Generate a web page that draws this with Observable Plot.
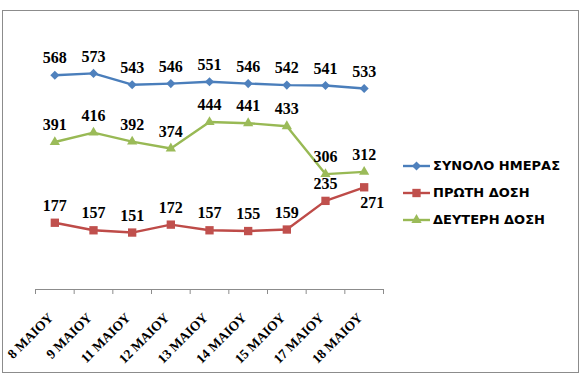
<!DOCTYPE html>
<html>
<head>
<meta charset="utf-8">
<script src="https://cdn.jsdelivr.net/npm/d3@7"></script>
<script src="https://cdn.jsdelivr.net/npm/@observablehq/plot@0.6"></script>
<style>
  body { margin: 0; background: #fff; }
  #wrap { position: relative; width: 584px; height: 387px; overflow: hidden; }
  #frame { position: absolute; left: 2px; top: 10px; width: 575px; height: 361px; border: 1px solid #8c8c8c; }
  #chart { position: absolute; left: 0; top: 0; }
  #legend { position: absolute; left: 403px; top: 152px; }
  #legend .row { display: flex; align-items: center; height: 27px; }
  #legend svg { margin-right: 3px; }
  #legend span { font-family: 'DejaVu Sans', sans-serif; font-weight: 700; font-size: 13px; color: #000; white-space: nowrap; }
</style>
</head>
<body>
<div id="wrap">
  <div id="frame"></div>
  <div id="chart"></div>
  <div id="legend"></div>
</div>
<script>
const dates = ["8 ΜΑΙΟΥ", "9 ΜΑΙΟΥ", "11 ΜΑΙΟΥ", "12 ΜΑΙΟΥ", "13 ΜΑΙΟΥ", "14 ΜΑΙΟΥ", "15 ΜΑΙΟΥ", "17 ΜΑΙΟΥ", "18 ΜΑΙΟΥ"];
const seriesNames = ["ΣΥΝΟΛΟ ΗΜΕΡΑΣ", "ΠΡΩΤΗ ΔΟΣΗ", "ΔΕΥΤΕΡΗ ΔΟΣΗ"];
const total = [568, 573, 543, 546, 551, 546, 542, 541, 533];
const firstDose = [177, 157, 151, 172, 157, 155, 159, 235, 271];
const secondDose = [391, 416, 392, 374, 444, 441, 433, 306, 312];

const lineColors = ["#4A7EBB", "#BE4B48", "#98B954"];
const markColors = ["#4F81BD", "#C0504D", "#9BBB59"];
const symbols = ["diamond2", "square", "triangle"];
const radii = [4.1, 4.7, 3.8];

const allValues = [total, firstDose, secondDose];
const data = [];
allValues.forEach((vals, s) => vals.forEach((v, i) => data.push({s, series: seriesNames[s], i, date: dates[i], value: v})));

const isBelow = d => d.s === 1 && d.i === dates.length - 1;
const numFont = "Liberation Serif, serif";
const greekFont = "'Liberation Serif', 'DejaVu Sans', sans-serif";

const marks = [
  Plot.ruleY([0], {stroke: "#8c8c8c", strokeWidth: 1}),
  Plot.axisX({ticks: d3.range(-0.5, dates.length, 1), tickSize: 5, tickFormat: () => "", stroke: "#8c8c8c", label: null}),
  Plot.axisX({ticks: d3.range(dates.length), tickSize: 0, tickPadding: 26, tickRotate: -45, dx: -4, label: null,
    tickFormat: i => dates[i], fontFamily: greekFont, fontWeight: "bold", fontSize: 13.5, fill: "#000"})
];
seriesNames.forEach((name, s) => {
  const sub = data.filter(d => d.s === s);
  marks.push(Plot.line(sub, {x: "i", y: "value", stroke: lineColors[s], strokeWidth: 2.4}));
  marks.push(Plot.dot(sub, {x: "i", y: "value", symbol: symbols[s], r: radii[s], fill: markColors[s], stroke: "none"}));
});
marks.push(Plot.text(data.filter(d => !isBelow(d)), {x: "i", y: "value", text: "value", dy: -17, lineAnchor: "middle",
  fontFamily: numFont, fontWeight: "bold", fontSize: 16, fill: "#000"}));
marks.push(Plot.text(data.filter(isBelow), {x: "i", y: "value", text: "value", dy: 16, dx: 8, lineAnchor: "middle",
  fontFamily: numFont, fontWeight: "bold", fontSize: 16, fill: "#000"}));

const plot = Plot.plot({
  width: 584,
  height: 387,
  marginLeft: 35,
  marginRight: 201,
  marginTop: 25,
  marginBottom: 98,
  style: {background: "transparent", overflow: "visible"},
  x: {type: "linear", domain: [-0.5, dates.length - 0.5], axis: null, label: null},
  y: {domain: [0, 700], axis: null, label: null},
  marks
});
document.getElementById("chart").appendChild(plot);

const symbolTypes = {diamond2: d3.symbolDiamond2, square: d3.symbolSquare, triangle: d3.symbolTriangle};
const legend = document.getElementById("legend");
seriesNames.forEach((name, s) => {
  const row = document.createElement("div");
  row.className = "row";
  const sym = d3.symbol(symbolTypes[symbols[s]], Math.PI * radii[s] * radii[s])();
  row.innerHTML = `<svg width="27" height="12"><line x1="0" x2="27" y1="6" y2="6" stroke="${lineColors[s]}" stroke-width="2.4"/><path transform="translate(13.5,6)" d="${sym}" fill="${markColors[s]}"/></svg><span>${name}</span>`;
  legend.appendChild(row);
});
</script>
</body>
</html>
